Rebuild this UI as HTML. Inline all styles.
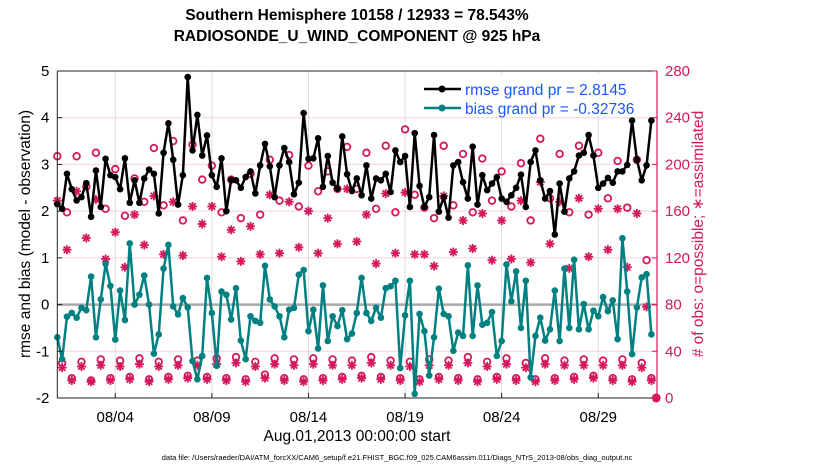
<!DOCTYPE html>
<html><head><meta charset="utf-8"><style>
body{margin:0;background:#fff;}
svg text{font-family:"Liberation Sans",sans-serif;}
</style></head><body>
<svg id="chart" width="830" height="470" xmlns="http://www.w3.org/2000/svg">
<rect width="830" height="470" fill="#fff"/>
<text x="357" y="20" text-anchor="middle" font-size="15.5" font-weight="bold">Southern Hemisphere 10158 / 12933 = 78.543%</text>
<text x="357" y="41" text-anchor="middle" font-size="15.5" font-weight="bold">RADIOSONDE_U_WIND_COMPONENT @ 925 hPa</text>
<g id="grid"></g><g id="marks"></g><g id="axes"></g>
<text transform="translate(30,234) rotate(-90)" text-anchor="middle" font-size="15.5">rmse and bias (model - observation)</text>
<text transform="translate(703,234) rotate(-90)" text-anchor="middle" font-size="15.5" fill="#d6175c"># of obs: o=possible; ∗=assimilated</text>
<text x="357" y="441" text-anchor="middle" font-size="15.5">Aug.01,2013 00:00:00 start</text>
<text x="397" y="460" text-anchor="middle" font-size="7.5">data file: /Users/raeder/DAI/ATM_forcXX/CAM6_setup/f.e21.FHIST_BGC.f09_025.CAM6assim.011/Diags_NTrS_2013-08/obs_diag_output.nc</text>
<g id="legend">
<rect x="418" y="74" width="226" height="42" fill="#fff"/>
<line x1="424" y1="89" x2="461" y2="89" stroke="#000" stroke-width="2.5"/><circle cx="442" cy="89" r="3.5" fill="#000"/>
<text x="465" y="95" font-size="15.5" fill="#1a56ff">rmse grand pr = 2.8145</text>
<line x1="424" y1="108" x2="461" y2="108" stroke="#008080" stroke-width="2.5"/><circle cx="442" cy="108" r="3.5" fill="#008080"/>
<text x="465" y="114" font-size="15.5" fill="#1a56ff">bias grand pr = -0.32736</text>
</g>
</svg>
<script>
const tickDays=[3,8,13,18,23,28];
const tickLabels=["08/04","08/09","08/14","08/19","08/24","08/29"];
const leftTicks=[-2,-1,0,1,2,3,4,5];
const rightTicks=[0,40,80,120,160,200,240,280];
const rmse=[2.15,2.05,2.8,2.47,2.23,2.3,2.6,1.88,2.87,2.09,3.12,2.77,2.73,2.47,3.13,2.18,2.66,2.18,2.7,2.89,2.8,1.95,3.25,3.88,3.1,2.14,2.77,4.87,3.3,4.06,3.19,3.62,
2.77,2.52,3.13,2.0,2.67,2.66,2.5,2.73,2.85,2.38,2.98,3.44,2.96,2.30,2.98,3.35,3.05,2.36,2.61,4.1,3.12,3.13,3.56,2.52,3.18,2.61,2.48,3.6,2.79,2.43,2.70,
2.34,2.98,2.27,2.70,2.66,2.80,2.41,3.30,3.05,3.18,2.09,3.67,2.54,2.09,2.30,3.63,1.99,2.30,1.86,2.98,3.05,2.62,2.27,3.38,2.14,2.77,2.45,2.59,2.73,2.27,2.2,
2.34,2.5,2.78,2.09,3.05,3.30,2.66,2.27,2.43,1.50,2.59,1.99,2.70,2.85,3.19,3.25,3.63,3.19,2.5,2.59,2.71,2.61,2.85,2.85,2.99,3.94,3.1,2.66,2.98,3.94];
const bias=[-0.70,-1.17,-0.26,-0.18,-0.28,-0.07,-0.12,0.6,-0.70,0.11,0.87,0.40,-0.75,0.30,-0.33,1.31,0,0.21,0.62,0,-1.05,-0.64,0.77,1.28,-0.04,-0.21,0.14,-0.06,-1.21,-1.6,-1.1,0.57,
-0.18,-1.31,0.28,0.21,-0.32,0.35,-0.77,-1.17,-0.25,-0.35,-0.39,0.83,0.11,-0.04,-0.25,-0.70,-0.11,-0.07,0.64,0.74,-0.57,-0.11,-0.94,0.41,-0.78,-0.25,-0.46,-0.12,-0.74,-0.62,-0.18,
0.57,-0.18,-0.35,-0.07,-0.28,0.35,0.39,0.51,-1.36,-0.23,0.51,-1.91,-0.2,-0.57,-1.52,-0.70,0.34,-0.2,-0.25,-0.99,-0.60,-0.67,0.84,-0.67,0.41,-0.43,-0.39,-0.16,-1.1,-0.78,0.86,
0.07,0.71,-0.5,0.51,-1.56,-0.67,-0.28,-0.77,-0.53,0.3,-0.78,0.77,-0.5,0.96,-0.53,0.01,-0.53,-0.13,-0.25,0.16,-0.14,0.09,-0.74,1.42,0.28,-1.06,-0.06,0.58,0.65,-0.64];
const possibleSyn=[207,159,207,181,210,162,196,156,188,168,214,165,220,152,217,187,199,159,187,154,192,157,204,169,208,164,199,177,194,179,215,179,210,162,216,159,230,174,163,154,216,165,209,159,205,169,194,164,201,152,222,171,209,159,216,157,210,171,203,163,204,118,0];
const assimSyn=[169,127,177,137,170,119,142,112,157,131,173,123,168,122,164,149,164,121,144,117,147,123,174,124,168,129,160,124,154,132,179,134,157,115,175,124,176,123,123,113,173,125,152,128,158,118,152,119,169,116,185,132,168,111,171,121,162,127,162,112,158,78,0];
const possibleOff=[30,17,31,15,33,17,32,18,34,16,31,18,33,19,32,18,34,17,35,16,31,20,34,17,33,16,34,17,33,18,32,19,35,18,32,17,31,16,33,18,32,17,35,16,31,18,34,17,30,16,34,17,32,18,33,19,32,17,33,16,30,17];
const assimOff=[26,15,27,14,28,15,27,16,29,14,27,16,28,17,28,16,29,15,30,14,27,17,29,15,28,14,29,15,28,16,28,17,30,16,28,15,27,14,28,16,28,15,30,14,27,16,29,15,26,14,29,15,28,16,28,17,28,15,28,14,26,15];

const L=57.3,R=657,T=71,B=398;
const xS=t=>L+t*19.32;
const yL=v=>B-(v+2)*(B-T)/7;
const yR=c=>B-c*(B-T)/280;
const NS="http://www.w3.org/2000/svg";
function mk(tag,attrs,parent){const e=document.createElementNS(NS,tag);for(const k in attrs)e.setAttribute(k,attrs[k]);parent.appendChild(e);return e;}
const grid=document.getElementById('grid'),marks=document.getElementById('marks'),axes=document.getElementById('axes');
const PINK="#d6175c";
rightTicks.forEach(c=>{const l=mk('line',{x1:L,x2:R,y1:yR(c),y2:yR(c),stroke:"#f3d2de","stroke-width":1},grid);

});
tickDays.forEach((d,i)=>{const l=mk('line',{x1:xS(d),x2:xS(d),y1:T,y2:B,stroke:"#ddd","stroke-width":1},grid);


const tx=mk('text',{x:xS(d),y:422,"text-anchor":"middle","font-size":15},axes);tx.textContent=tickLabels[i];

});
const zl=mk('line',{x1:L,x2:R,y1:yL(0),y2:yL(0),stroke:"#aaa","stroke-width":2.5},grid);


// counts
function star(cx,cy,p){const g=mk('g',{stroke:PINK,"stroke-width":1.8},p);
[[0,4.5],[4.5,0],[3.2,3.2],[3.2,-3.2]].forEach(([dx,dy])=>mk('line',{x1:cx-dx,y1:cy-dy,x2:cx+dx,y2:cy+dy},g));return g;}
function count(i,pv,av){const t=i*0.25;
const c=mk('circle',{cx:xS(t),cy:yR(pv),r:3.3,fill:"none",stroke:PINK,"stroke-width":1.8},marks);


const s=star(xS(t),yR(av),marks);

}
possibleSyn.forEach((v,k)=>count(2*k,v,assimSyn[k]));
possibleOff.forEach((v,k)=>count(2*k+1,v,assimOff[k]));
function series(arr,col,name){
const pts=arr.map((v,i)=>xS(i*0.25)+","+yL(v)).join(" ");
const pl=mk('polyline',{points:pts,fill:"none",stroke:col,"stroke-width":2.5,"stroke-linejoin":"round"},marks);


arr.forEach((v,i)=>{const c=mk('circle',{cx:xS(i*0.25),cy:yL(v),r:3.3,fill:col},marks);

});}
series(bias,"#008080","bias");
series(rmse,"#000","rmse");
// axes frame
mk('line',{x1:L,x2:R,y1:T,y2:T,stroke:"#222","stroke-width":1},axes);
mk('line',{x1:L,x2:R,y1:B,y2:B,stroke:"#222","stroke-width":1},axes);
mk('line',{x1:L,x2:L,y1:T,y2:B,stroke:"#222","stroke-width":1},axes);
mk('line',{x1:R,x2:R,y1:T,y2:B,stroke:PINK,"stroke-width":1.2},axes);
leftTicks.forEach(v=>{mk('line',{x1:L,x2:L+5,y1:yL(v),y2:yL(v),stroke:"#222"},axes);
const t=mk('text',{x:L-8,y:yL(v)+5,"text-anchor":"end","font-size":15},axes);t.textContent=v;

});
rightTicks.forEach(c=>{mk('line',{x1:R-5,x2:R,y1:yR(c),y2:yR(c),stroke:PINK},axes);
const t=mk('text',{x:R+8,y:yR(c)+5,"font-size":15,fill:PINK},axes);t.textContent=c;

});
tickDays.forEach(d=>mk('line',{x1:xS(d),x2:xS(d),y1:B,y2:B-5,stroke:"#222"},axes));
</script>
</body></html>
